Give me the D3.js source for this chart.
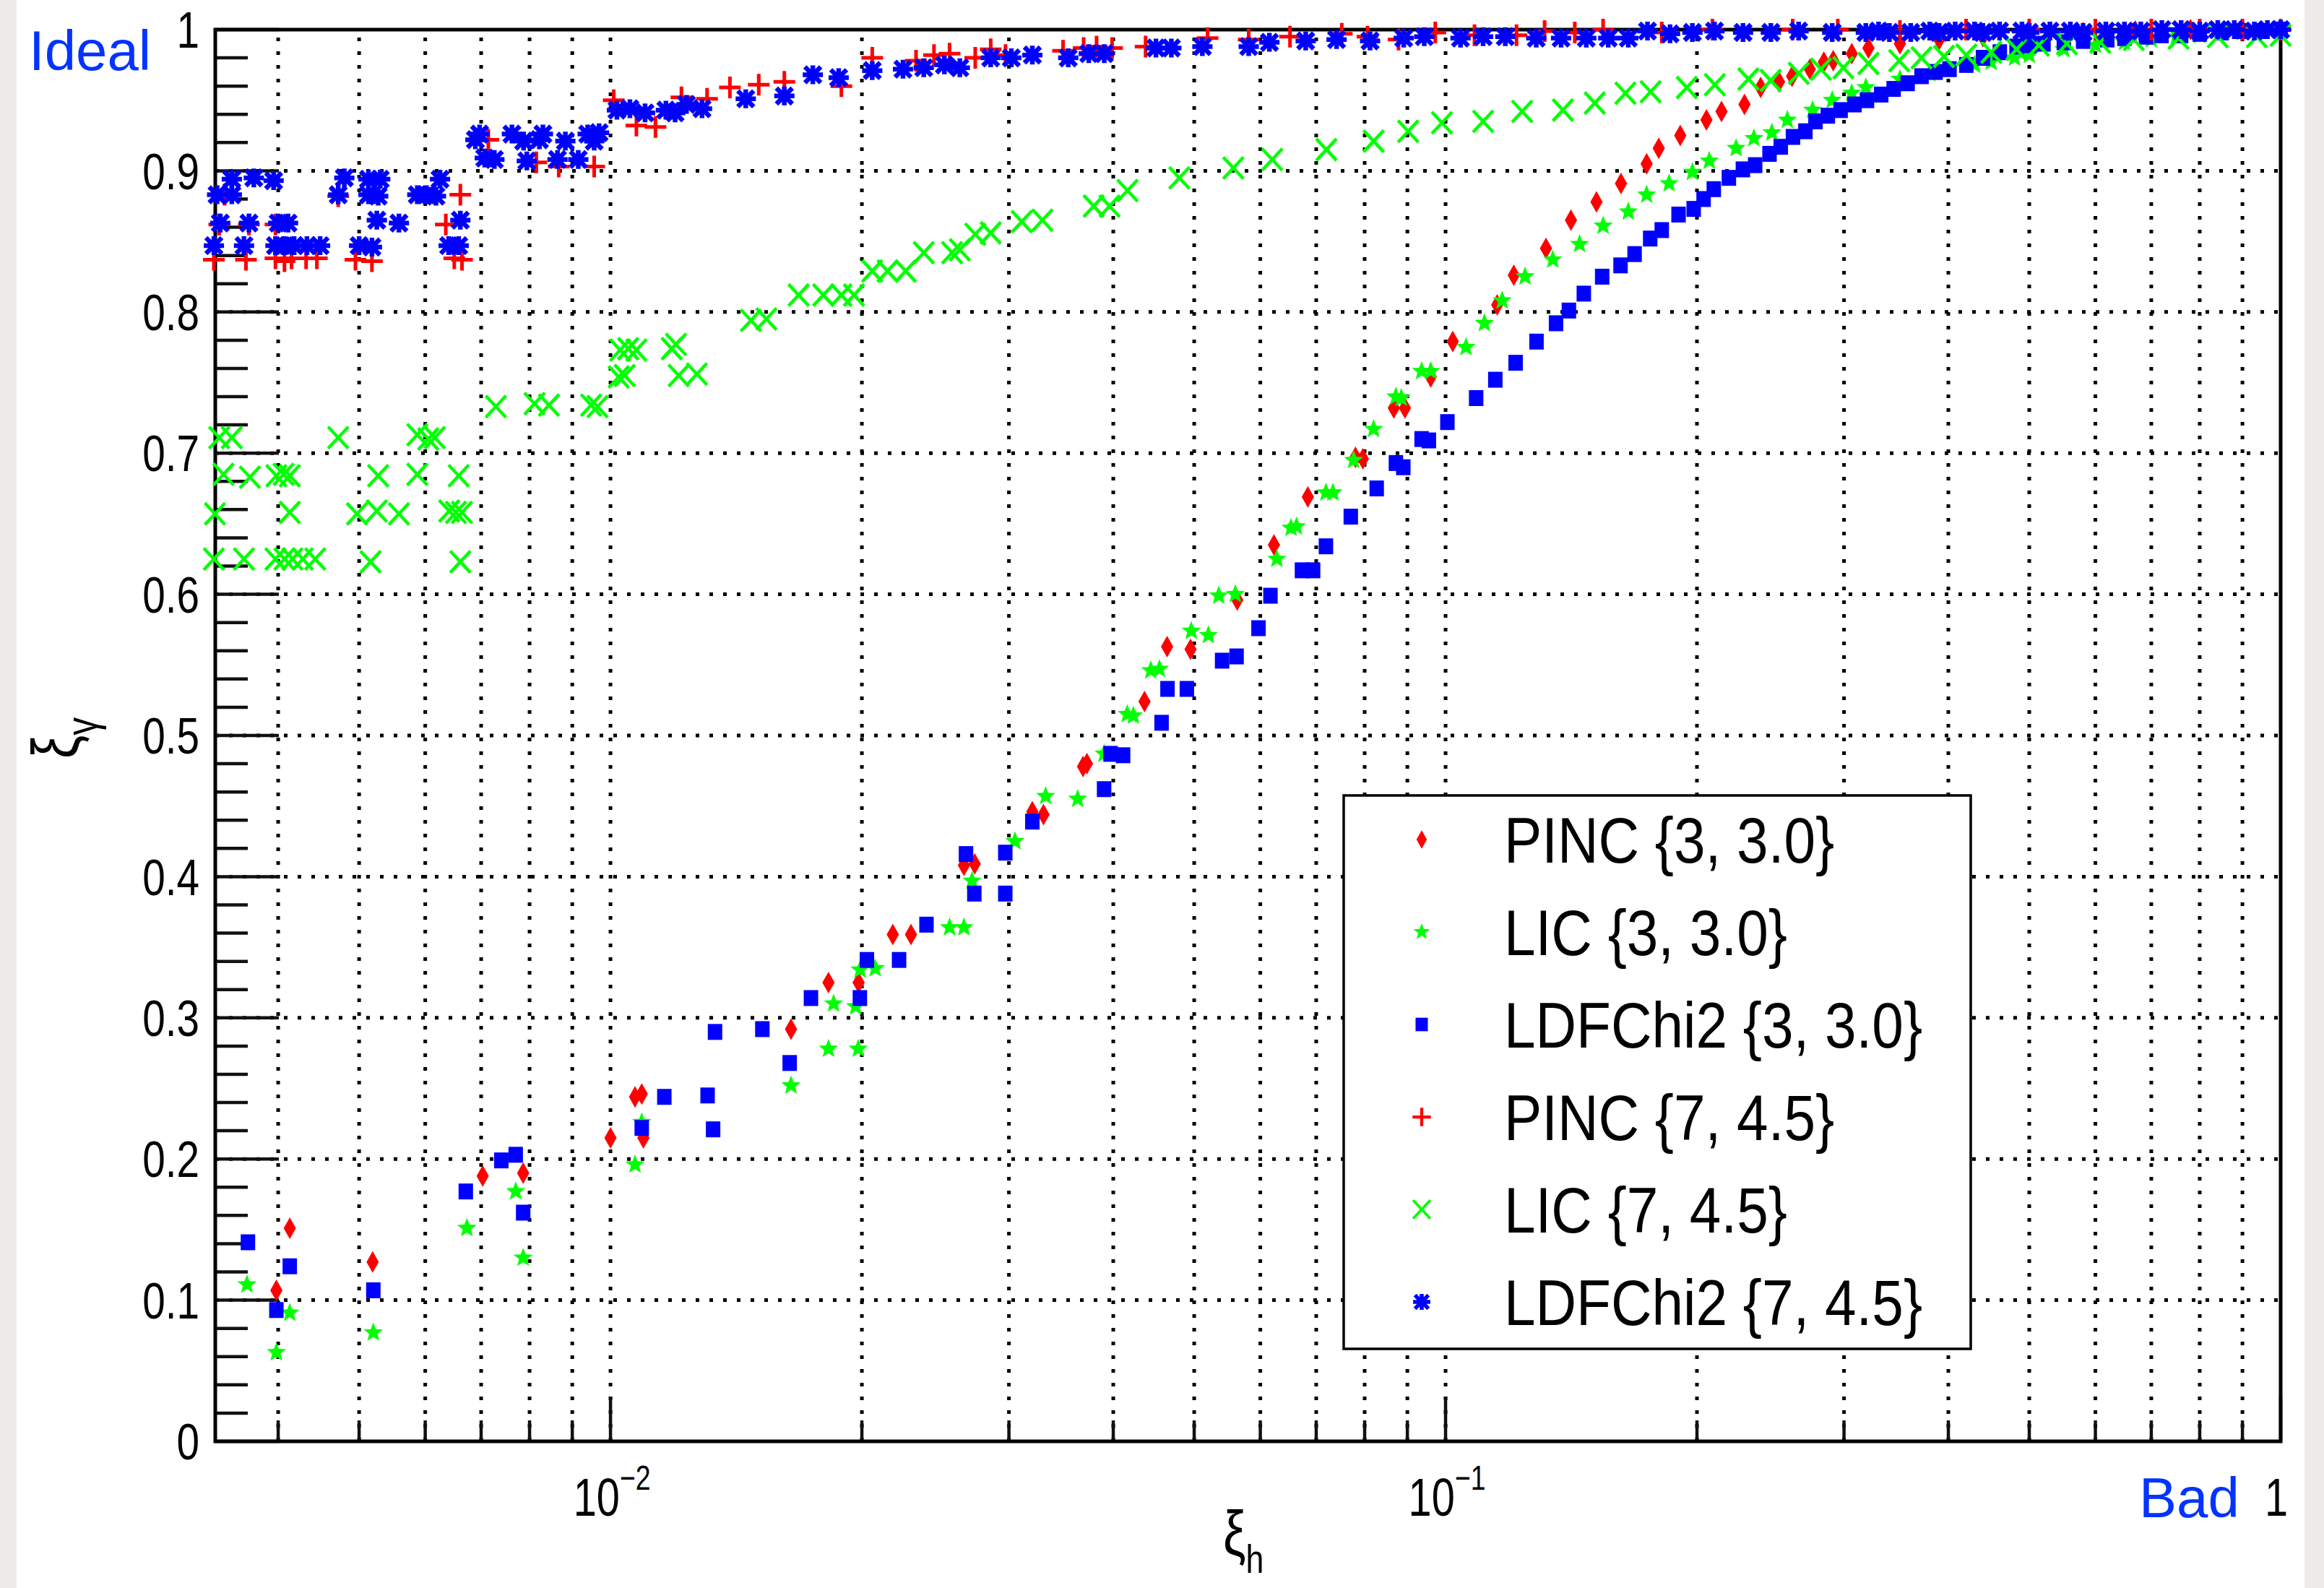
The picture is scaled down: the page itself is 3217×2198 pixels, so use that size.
<!DOCTYPE html>
<html>
<head>
<meta charset="utf-8">
<script src="https://cdn.jsdelivr.net/npm/d3@7"></script>
<style>
html, body { margin: 0; padding: 0; background: #ecebe8; }
svg { display: block; }
text { font-family: "Liberation Sans", Arial, sans-serif; }
</style>
</head>
<body>
<svg id="chart" width="3217" height="2198"></svg>
<script>
// values, [xi_h, xi_gamma]
const pinc33 = [[0.00398,0.107],[0.00413,0.151],[0.00519,0.127],[0.00703,0.188],[0.00786,0.190],[0.0100,0.215],[0.0107,0.244],[0.0109,0.246],[0.01095,0.215],[0.01645,0.292],[0.01824,0.325],[0.01982,0.325],[0.02178,0.359],[0.0229,0.359],[0.0265,0.408],[0.0273,0.409],[0.0320,0.446],[0.0330,0.444],[0.0368,0.478],[0.0372,0.480],[0.0436,0.524],[0.0464,0.563],[0.0495,0.561],[0.0563,0.596],[0.0623,0.635],[0.0684,0.669],[0.0780,0.697],[0.0796,0.696],[0.0867,0.732],[0.0894,0.732],[0.0960,0.754],[0.1020,0.779],[0.1153,0.805],[0.1207,0.826],[0.1319,0.845],[0.1413,0.865],[0.1516,0.878],[0.1622,0.891],[0.1741,0.905],[0.1800,0.916],[0.1910,0.925],[0.2053,0.936],[0.2140,0.942],[0.2280,0.947],[0.2384,0.959],[0.2508,0.963],[0.2600,0.967],[0.2730,0.972],[0.2838,0.977],[0.2912,0.978],[0.3065,0.983],[0.3209,0.987],[0.35,0.990],[0.39,0.993],[0.44,0.995],[0.5,0.997],[0.58,0.998],[0.67,0.999],[0.78,1.0],[0.9,1.0],[1.0,1.0]];

const lic33 = [[0.00367,0.111],[0.00398,0.063],[0.00413,0.091],[0.0052,0.077],[0.00673,0.151],[0.0077,0.177],[0.00786,0.130],[0.0107,0.196],[0.0109,0.226],[0.01645,0.252],[0.01824,0.278],[0.0198,0.278],[0.0185,0.310],[0.01966,0.308],[0.0199,0.334],[0.02075,0.335],[0.02547,0.364],[0.0265,0.364],[0.0271,0.397],[0.0305,0.425],[0.0332,0.457],[0.03626,0.455],[0.039,0.487],[0.04157,0.515],[0.04228,0.514],[0.04436,0.546],[0.04543,0.547],[0.0496,0.574],[0.052,0.571],[0.0535,0.599],[0.056,0.600],[0.0628,0.625],[0.0653,0.647],[0.0663,0.648],[0.0719,0.672],[0.0733,0.672],[0.0776,0.695],[0.082,0.717],[0.0872,0.740],[0.0885,0.739],[0.0936,0.758],[0.096,0.758],[0.1058,0.775],[0.1113,0.792],[0.1169,0.808],[0.1245,0.825],[0.1344,0.837],[0.1447,0.848],[0.1544,0.861],[0.1655,0.871],[0.1741,0.883],[0.1852,0.891],[0.1975,0.899],[0.2069,0.907],[0.2228,0.916],[0.234,0.923],[0.2459,0.927],[0.2566,0.936],[0.2751,0.943],[0.2904,0.950],[0.3064,0.955],[0.3186,0.959],[0.35,0.965],[0.38,0.969],[0.4,0.972],[0.43,0.975],[0.45,0.977],[0.48,0.980],[0.5,0.982],[0.55,0.986],[0.6,0.989],[0.65,0.991],[0.7,0.993],[0.75,0.995],[0.8,0.996],[0.9,0.998],[1.0,1.0]];

const ldf33 = [[0.00368,0.141],[0.00398,0.093],[0.00413,0.124],[0.0052,0.107],[0.00671,0.177],[0.0074,0.199],[0.0077,0.203],[0.00786,0.162],[0.0109,0.222],[0.0116,0.244],[0.01307,0.245],[0.01327,0.221],[0.01334,0.290],[0.0152,0.292],[0.01639,0.268],[0.01738,0.314],[0.01989,0.314],[0.02028,0.341],[0.02216,0.341],[0.0239,0.366],[0.02665,0.416],[0.02727,0.388],[0.0297,0.417],[0.0297,0.388],[0.032,0.439],[0.039,0.462],[0.0397,0.487],[0.0411,0.486],[0.0457,0.509],[0.04645,0.533],[0.049,0.533],[0.054,0.553],[0.0562,0.556],[0.0597,0.576],[0.0617,0.599],[0.0673,0.617],[0.0694,0.617],[0.0719,0.634],[0.077,0.655],[0.0827,0.675],[0.0872,0.693],[0.089,0.690],[0.0936,0.710],[0.0955,0.709],[0.1005,0.722],[0.1088,0.739],[0.1147,0.752],[0.1213,0.764],[0.1285,0.779],[0.1356,0.792],[0.1405,0.801],[0.1464,0.813],[0.154,0.825],[0.162,0.833],[0.1684,0.841],[0.1758,0.852],[0.1815,0.858],[0.1901,0.869],[0.1982,0.873],[0.2037,0.880],[0.2095,0.887],[0.2184,0.895],[0.227,0.901],[0.2348,0.904],[0.2443,0.912],[0.252,0.917],[0.2606,0.924],[0.2697,0.928],[0.2773,0.935],[0.2869,0.939],[0.2972,0.943],[0.3088,0.947],[0.3196,0.950],[0.3324,0.954],[0.344,0.958],[0.3575,0.962],[0.3715,0.967],[0.3862,0.970],[0.4013,0.972],[0.4203,0.975],[0.4401,0.980],[0.461,0.984],[0.4828,0.988],[0.50,0.989],[0.52,0.990],[0.55,0.991],[0.58,0.992],[0.62,0.993],[0.65,0.994],[0.69,0.995],[0.72,0.996],[0.76,0.996],[0.8,0.997],[0.85,0.998],[0.9,0.999],[0.95,0.999],[1.0,1.0]];

const pinc745 = [[0.00335,0.837],[0.00366,0.837],[0.00397,0.838],[0.00407,0.836],[0.00415,0.838],[0.00432,0.838],[0.00445,0.838],[0.00495,0.837],[0.00518,0.836],[0.00472,0.882],[0.00661,0.883],[0.00635,0.862],[0.0065,0.838],[0.00664,0.837],[0.00345,0.883],[0.0034,0.862],[0.00369,0.862],[0.00397,0.862],[0.00714,0.922],[0.00815,0.906],[0.00867,0.903],[0.00956,0.903],[0.01009,0.950],[0.01074,0.932],[0.01132,0.931],[0.01216,0.952],[0.01305,0.951],[0.0139,0.959],[0.01505,0.961],[0.01615,0.963],[0.0189,0.960],[0.02058,0.980],[0.02322,0.978],[0.0244,0.982],[0.02547,0.983],[0.02734,0.980],[0.02853,0.986],[0.02972,0.982],[0.03483,0.985],[0.03686,0.987],[0.0382,0.988],[0.03987,0.987],[0.04373,0.988],[0.05188,0.994],[0.05811,0.993],[0.06512,0.995],[0.07511,0.997],[0.08063,0.995],[0.08784,0.993],[0.0972,0.998],[0.1083,0.996],[0.1216,0.996],[0.1314,0.999],[0.1428,0.998],[0.1544,1.0],[0.1815,0.998],[0.2087,1.0],[0.2604,1.0],[0.2949,1.0],[0.35,0.999],[0.42,1.0],[0.5,1.0],[0.6,1.0],[0.7,1.0],[0.8,1.0],[0.9,1.0],[1.0,1.0]];

const lic745 = [[0.0034,0.711],[0.00352,0.711],[0.00472,0.711],[0.00587,0.713],[0.00605,0.710],[0.00616,0.711],[0.00344,0.685],[0.0037,0.683],[0.00398,0.684],[0.00406,0.685],[0.00413,0.684],[0.00527,0.684],[0.00587,0.685],[0.00658,0.684],[0.00336,0.657],[0.00413,0.658],[0.00497,0.657],[0.00525,0.659],[0.00558,0.657],[0.00641,0.659],[0.00653,0.658],[0.00664,0.658],[0.00335,0.625],[0.00364,0.625],[0.00397,0.625],[0.00407,0.625],[0.00416,0.625],[0.00428,0.625],[0.00443,0.625],[0.00516,0.623],[0.00661,0.623],[0.00729,0.733],[0.00811,0.735],[0.00844,0.734],[0.00948,0.734],[0.00965,0.733],[0.01023,0.754],[0.0104,0.755],[0.01027,0.773],[0.0105,0.774],[0.01074,0.773],[0.01184,0.774],[0.01198,0.777],[0.01207,0.755],[0.01269,0.756],[0.01473,0.794],[0.01537,0.795],[0.0168,0.812],[0.01798,0.812],[0.0189,0.812],[0.01957,0.812],[0.02058,0.829],[0.02147,0.829],[0.02257,0.829],[0.02372,0.842],[0.02565,0.842],[0.0262,0.844],[0.02734,0.855],[0.02853,0.856],[0.03108,0.864],[0.0329,0.865],[0.0379,0.875],[0.0396,0.875],[0.0416,0.886],[0.048,0.895],[0.0557,0.902],[0.062,0.908],[0.072,0.915],[0.082,0.921],[0.0902,0.928],[0.099,0.934],[0.1109,0.935],[0.1235,0.942],[0.1382,0.943],[0.1509,0.948],[0.1642,0.955],[0.176,0.956],[0.1945,0.959],[0.2101,0.961],[0.2305,0.965],[0.2451,0.964],[0.2648,0.969],[0.2815,0.972],[0.2995,0.973],[0.3209,0.976],[0.3493,0.978],[0.3715,0.980],[0.3952,0.981],[0.4203,0.982],[0.4503,0.984],[0.4828,0.986],[0.5134,0.989],[0.5546,0.990],[0.6082,0.991],[0.6671,0.993],[0.7546,0.994],[0.8408,0.995],[0.9363,0.995],[1.0,0.996]];

const ldf745 = [[0.00352,0.894],[0.00374,0.895],[0.00395,0.893],[0.00338,0.883],[0.00352,0.883],[0.00341,0.863],[0.00369,0.863],[0.0040,0.863],[0.00411,0.863],[0.00335,0.847],[0.00364,0.847],[0.00397,0.847],[0.00407,0.847],[0.00418,0.847],[0.00433,0.847],[0.00449,0.847],[0.0048,0.895],[0.00513,0.894],[0.0053,0.894],[0.00472,0.883],[0.00513,0.883],[0.00527,0.882],[0.00525,0.865],[0.00558,0.863],[0.005,0.847],[0.00518,0.846],[0.00587,0.883],[0.00602,0.883],[0.00618,0.882],[0.00625,0.894],[0.00661,0.865],[0.0064,0.847],[0.00658,0.847],[0.00697,0.926],[0.00689,0.922],[0.00707,0.909],[0.00726,0.908],[0.00762,0.926],[0.00787,0.921],[0.00822,0.922],[0.0083,0.926],[0.00794,0.907],[0.00864,0.908],[0.00883,0.921],[0.00915,0.908],[0.00939,0.926],[0.00956,0.921],[0.00969,0.927],[0.01018,0.943],[0.01055,0.944],[0.011,0.941],[0.01165,0.943],[0.01195,0.941],[0.01233,0.947],[0.01287,0.944],[0.01452,0.951],[0.01615,0.953],[0.01747,0.968],[0.01876,0.966],[0.02058,0.971],[0.0224,0.972],[0.02372,0.973],[0.02511,0.975],[0.0262,0.973],[0.02853,0.980],[0.0302,0.980],[0.032,0.982],[0.03533,0.980],[0.03739,0.983],[0.03902,0.983],[0.04499,0.987],[0.04695,0.987],[0.05114,0.988],[0.05811,0.988],[0.06152,0.991],[0.068,0.992],[0.07404,0.993],[0.0812,0.992],[0.0891,0.994],[0.09429,0.995],[0.1042,0.994],[0.1109,0.995],[0.1179,0.995],[0.1284,0.994],[0.1375,0.994],[0.1474,0.994],[0.1566,0.994],[0.1655,0.994],[0.1745,0.999],[0.1857,0.997],[0.1975,0.998],[0.2099,0.999],[0.2271,0.998],[0.2452,0.998],[0.2647,0.999],[0.2904,0.998],[0.3186,0.998],[0.33,0.999],[0.34,0.998],[0.3606,0.998],[0.38,0.999],[0.39,0.998],[0.4076,0.999],[0.43,0.999],[0.44,0.998],[0.4607,0.999],[0.49,0.999],[0.5,0.998],[0.5293,0.999],[0.56,0.999],[0.58,0.998],[0.6176,0.999],[0.65,0.999],[0.68,0.999],[0.7206,1.0],[0.76,1.0],[0.8,0.999],[0.8408,1.0],[0.88,1.0],[0.93,0.999],[0.9641,1.0],[1.0,1.0]];

const seriesNames = ["PINC {3, 3.0}", "LIC {3, 3.0}", "LDFChi2 {3, 3.0}", "PINC {7, 4.5}", "LIC {7, 4.5}", "LDFChi2 {7, 4.5}"];
const seriesData = [pinc33, lic33, ldf33, pinc745, lic745, ldf745];
const seriesColors = ["#ff0000", "#00ff00", "#0000ff", "#ff0000", "#00ff00", "#0000ff"];
const seriesMarkers = ["diamond", "star", "square", "plus", "cross", "asterisk"];

const yTicks = [0, 0.1, 0.2, 0.3, 0.4, 0.5, 0.6, 0.7, 0.8, 0.9, 1];
const yTickLabels = ["0", "0.1", "0.2", "0.3", "0.4", "0.5", "0.6", "0.7", "0.8", "0.9", "1"];
const xMajorTicks = [0.01, 0.1, 1];
const xTickBase = ["10", "10", "1"];
const xTickExp = ["\u22122", "\u22121", ""];

const svg = d3.select("#chart");
const plot = {left: 298, right: 3157, top: 41, bottom: 1995};

const x = d3.scaleLog().domain([0.003363, 1]).range([plot.left, plot.right]);
const y = d3.scaleLinear().domain([0, 1]).range([plot.bottom, plot.top]);

// paper, white sheet
svg.append("rect").attr("x", 23).attr("y", 0).attr("width", 3167).attr("height", 2198).attr("fill", "#ffffff");

// log minor ticks 2..9 in each decade
const xMinor = [];
[0.001, 0.01, 0.1].forEach(d => {
    for (let k = 2; k <= 9; k++) {
        const v = d * k;
        if (v > x.domain()[0] && v < 1) xMinor.push(v);
    }
});
const yMinor = d3.range(0, 51).map(i => i / 50).filter(v => Math.round(v * 50) % 5 !== 0);

// grid
const grid = svg.append("g").attr("stroke", "#000").attr("stroke-width", 5).attr("stroke-dasharray", "5 14");
grid.selectAll(".gx").data(xMinor.concat([0.01, 0.1])).join("line")
    .attr("x1", d => x(d)).attr("x2", d => x(d))
    .attr("y1", plot.bottom).attr("y2", plot.top);
grid.selectAll(".gy").data(yTicks.slice(1, -1)).join("line")
    .attr("x1", plot.left).attr("x2", plot.right)
    .attr("y1", d => y(d)).attr("y2", d => y(d));

// ticks
const ticks = svg.append("g").attr("stroke", "#111").attr("stroke-width", 4.5);
ticks.selectAll(".ty").data(yTicks).join("line")
    .attr("x1", plot.left).attr("x2", plot.left + 88)
    .attr("y1", d => y(d)).attr("y2", d => y(d));
ticks.selectAll(".tym").data(yMinor).join("line")
    .attr("x1", plot.left).attr("x2", plot.left + 45)
    .attr("y1", d => y(d)).attr("y2", d => y(d));
ticks.selectAll(".tx").data(xMajorTicks).join("line")
    .attr("x1", d => x(d)).attr("x2", d => x(d))
    .attr("y1", plot.bottom).attr("y2", plot.bottom - 62);
ticks.selectAll(".txm").data(xMinor).join("line")
    .attr("x1", d => x(d)).attr("x2", d => x(d))
    .attr("y1", plot.bottom).attr("y2", plot.bottom - 29);

// frame
svg.append("rect")
    .attr("x", plot.left).attr("y", plot.top)
    .attr("width", plot.right - plot.left).attr("height", plot.bottom - plot.top)
    .attr("fill", "none").attr("stroke", "#000").attr("stroke-width", 5);

// tick labels
svg.append("g").selectAll("g").data(yTicks).join("g")
    .attr("transform", d => `translate(276,${y(d)}) scale(0.81,1)`)
    .append("text")
    .attr("text-anchor", "end").attr("dy", "0.36em")
    .attr("font-size", 70).attr("fill", "#000")
    .text((d, i) => yTickLabels[i]);

const xl = svg.append("g").selectAll("g").data(xMajorTicks).join("g")
    .attr("transform", (d, i) => `translate(${i === 2 ? x(d) - 6 : x(d) + 2},2098) scale(0.78,1)`)
    .append("text")
    .attr("text-anchor", "middle").attr("font-size", 74).attr("fill", "#000");
xl.append("tspan").text((d, i) => xTickBase[i]);
xl.append("tspan").attr("font-size", 48).attr("dy", -36).text((d, i) => xTickExp[i]);

// axis titles
const xt = svg.append("g").attr("transform", "translate(1693,2152) scale(0.8,1)")
    .append("text").attr("font-size", 88).attr("fill", "#000");
xt.append("tspan").text("\u03be");
xt.append("tspan").attr("font-size", 56).attr("dy", 25).text("h");

const yt = svg.append("g").attr("transform", "translate(108,1050) rotate(-90) scale(0.8,1)")
    .append("text").attr("font-size", 90).attr("fill", "#000");
yt.append("tspan").text("\u03be");
yt.append("tspan").attr("font-size", 62).attr("dy", 26).text("\u03b3");

// markers
function starPath(R, r) {
    const pts = d3.range(10).map(i => {
        const a = -Math.PI / 2 + i * Math.PI / 5;
        const rr = i % 2 ? r : R;
        return [rr * Math.cos(a), rr * Math.sin(a)];
    });
    return "M" + pts.map(p => p.join(",")).join("L") + "Z";
}

function drawMarker(sel, type, color) {
    if (type === "diamond") {
        sel.append("path").attr("d", "M0,-15L8.5,0L0,15L-8.5,0Z").attr("fill", color);
    } else if (type === "star") {
        sel.append("path").attr("d", starPath(14, 6)).attr("fill", color);
    } else if (type === "square") {
        sel.append("rect").attr("x", -10).attr("y", -11).attr("width", 20).attr("height", 22).attr("fill", color);
    } else if (type === "plus") {
        sel.append("path").attr("d", "M-15,0H15M0,-15V15").attr("stroke", color).attr("stroke-width", 5).attr("fill", "none");
    } else if (type === "cross") {
        sel.append("path").attr("d", "M-14,-15L14,15M-14,15L14,-15").attr("stroke", color).attr("stroke-width", 4.5).attr("fill", "none");
    } else if (type === "asterisk") {
        sel.append("path").attr("d", "M-14,0H14M0,-13V13M-11,-11L11,11M-11,11L11,-11").attr("stroke", color).attr("stroke-width", 6.5).attr("fill", "none");
    }
}

seriesData.forEach((data, s) => {
    const g = svg.append("g");
    g.selectAll("g").data(data).join("g")
        .attr("transform", d => `translate(${x(d[0])},${y(d[1])})`)
        .each(function() { drawMarker(d3.select(this), seriesMarkers[s], seriesColors[s]); });
});

// legend
const legend = svg.append("g");
legend.append("rect").attr("x", 1860).attr("y", 1101).attr("width", 868).attr("height", 766)
    .attr("fill", "#fff").attr("stroke", "#000").attr("stroke-width", 3.5);
const rows = legend.selectAll(".row").data(seriesNames).join("g")
    .attr("transform", (d, i) => `translate(0,${1162 + i * 128})`);
rows.each(function(d, i) {
    const m = d3.select(this).append("g").attr("transform", "translate(1968,0) scale(0.85)");
    drawMarker(m, seriesMarkers[i], seriesColors[i]);
});
rows.append("g").attr("transform", "translate(2082,0) scale(0.88,1)")
    .append("text").attr("font-size", 89).attr("dy", "0.36em").attr("fill", "#000")
    .text(d => d);

// annotations
svg.append("text").attr("x", 40).attr("y", 97).attr("font-size", 78).attr("fill", "#0433ff").text("Ideal");
svg.append("text").attr("x", 2961).attr("y", 2100).attr("font-size", 78).attr("fill", "#0433ff").text("Bad");
</script>
</body>
</html>
